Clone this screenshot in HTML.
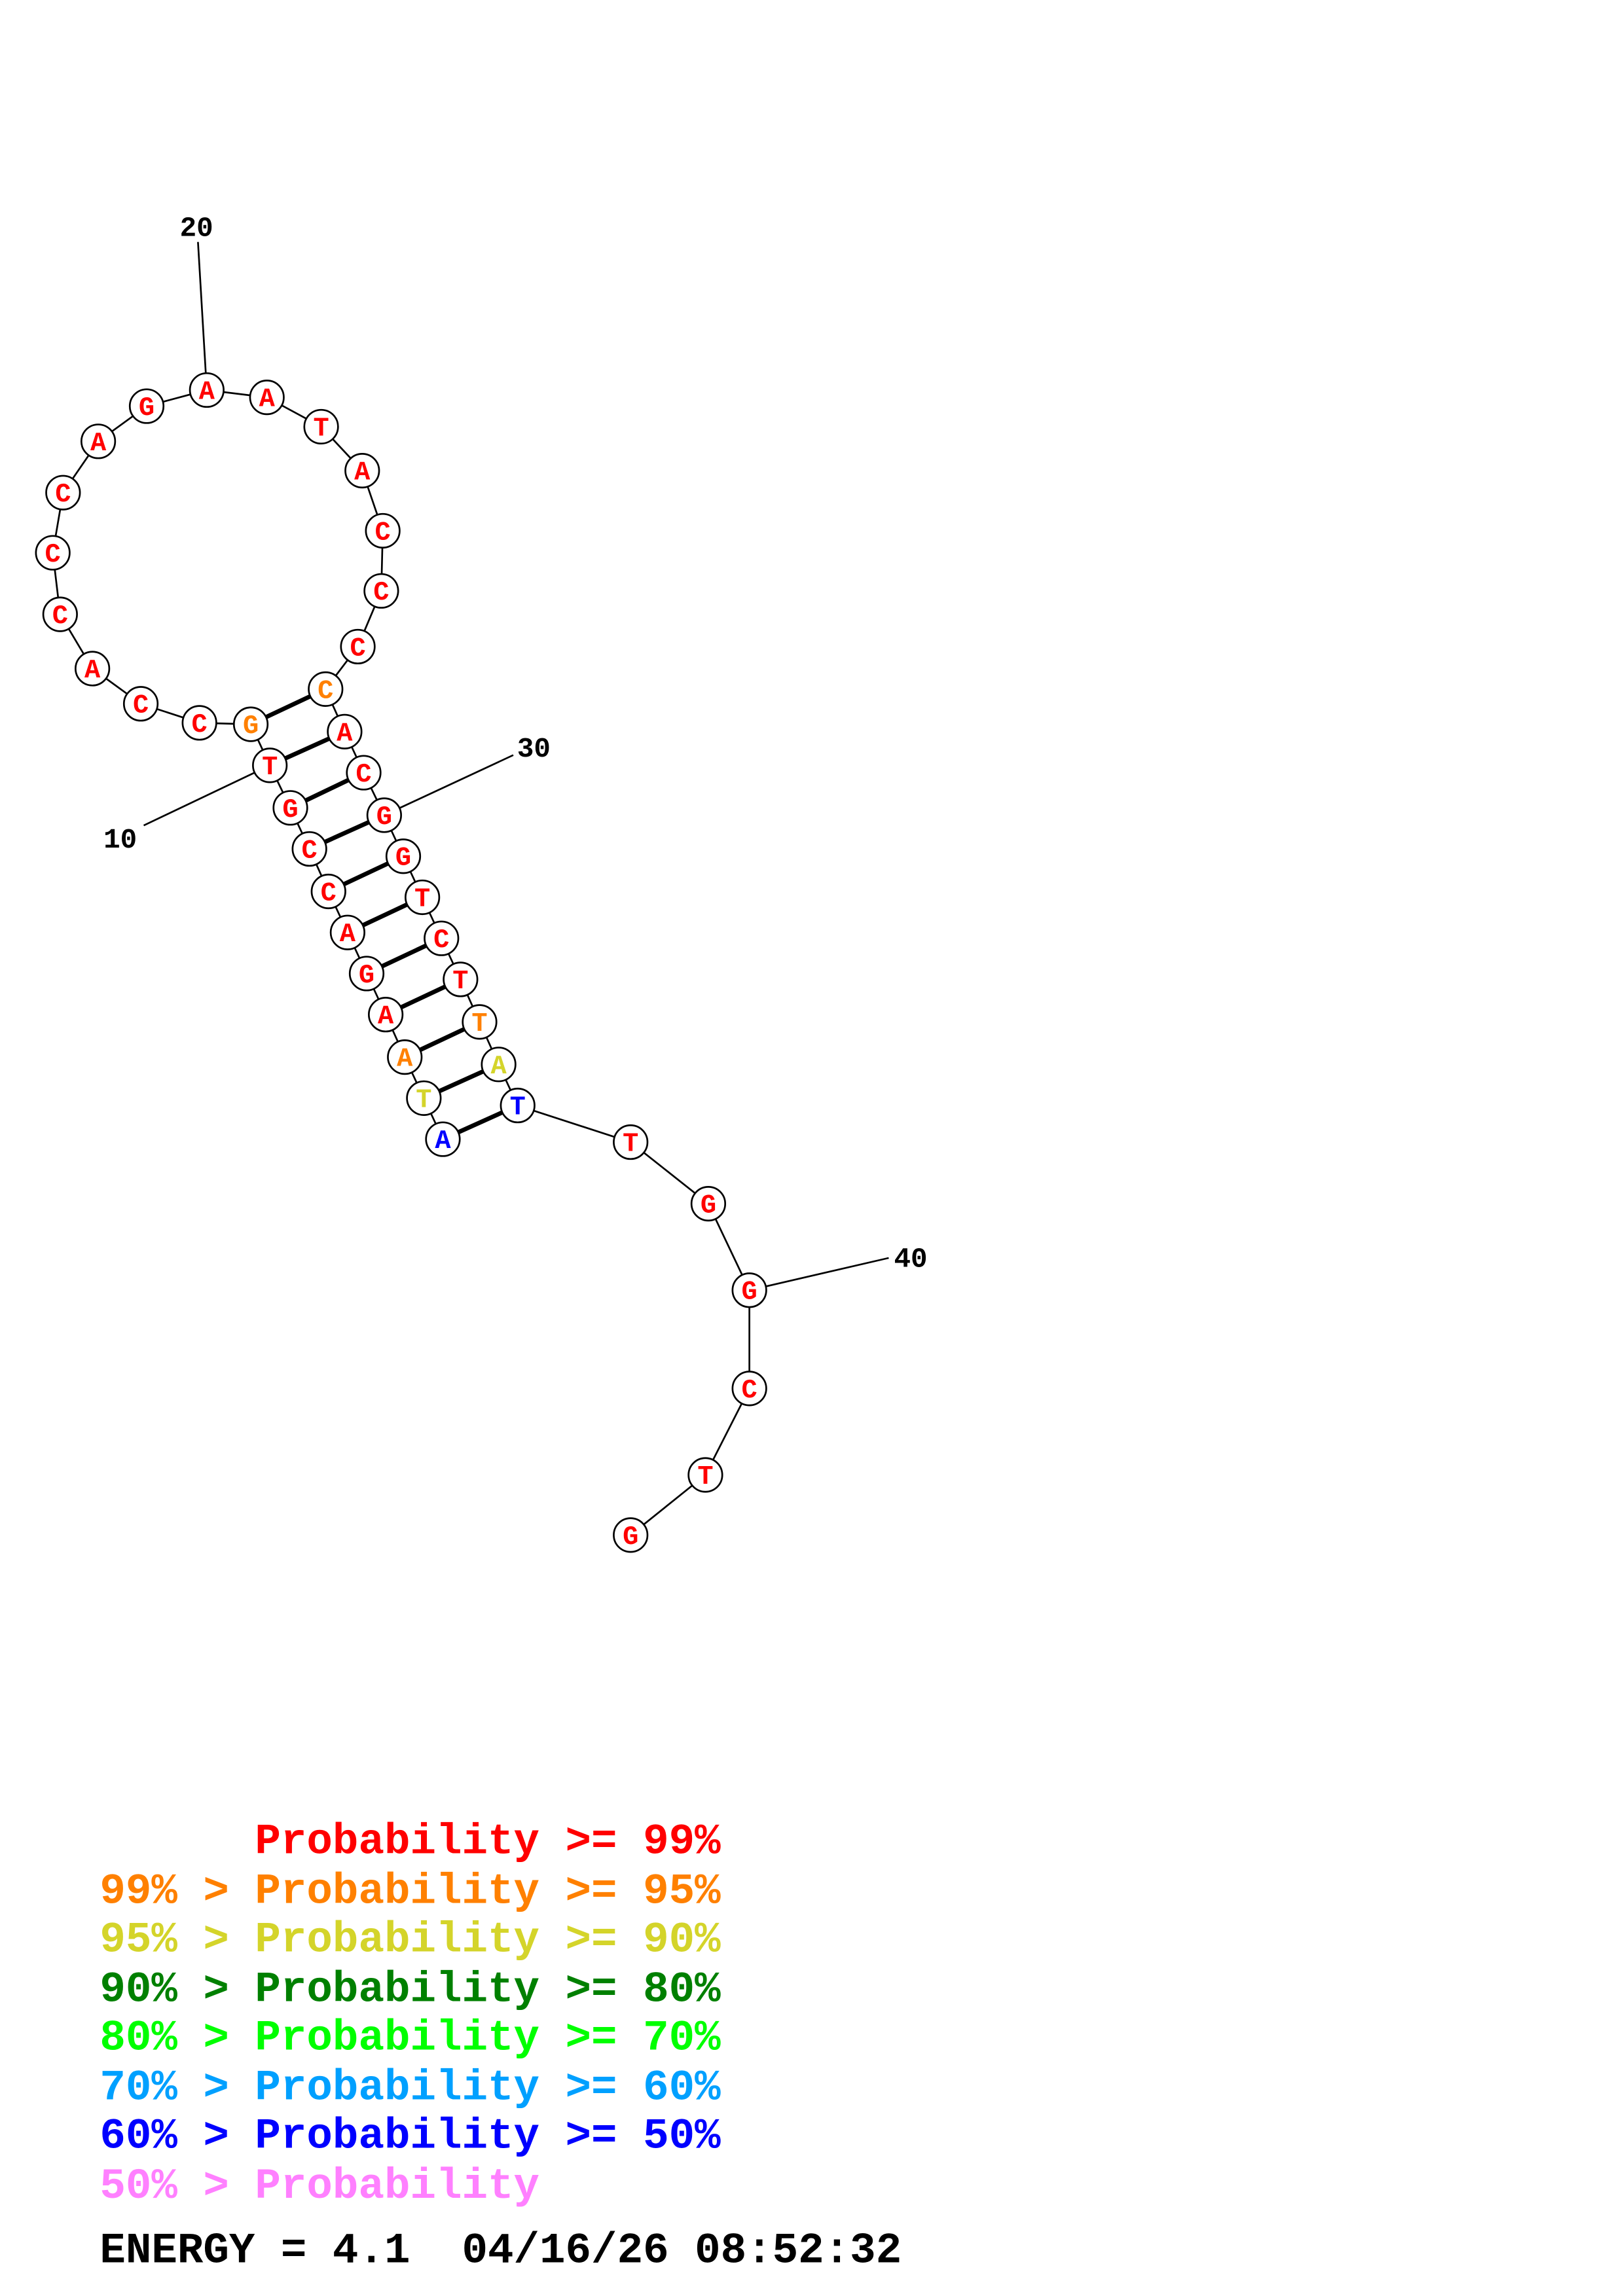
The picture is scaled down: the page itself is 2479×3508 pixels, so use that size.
<!DOCTYPE html>
<html><head><meta charset="utf-8"><style>html,body{margin:0;padding:0;background:#fff}svg{display:block}.pre{white-space:pre}</style></head>
<body>
<svg width="2479" height="3508" viewBox="0 0 1106.7 1566" xmlns="http://www.w3.org/2000/svg">
<rect width="1106.7" height="1566" fill="#fff"/>
<g stroke="#000" stroke-width="1.2" fill="none">
<polyline points="302,777 289,749 276,721 263,692 250,664 237,636 224,608 211,579 198,551 184,522 171,494 136,493 96,480 63,456 41,419 36,377 43,336 67,301 100,277 141,266 182,271 219,291 247,321 261,362 260,403 244,441 222,470 235,499 248,527 262,556 275,584 288,612 301,640 314,668 327,697 340,726 353,754 430,779 483,821 511,880 511,947 481,1006 430,1047"/>
<line x1="141" y1="266" x2="135" y2="165"/>
<line x1="184" y1="522" x2="98" y2="563"/>
<line x1="262" y1="556" x2="350" y2="515"/>
<line x1="511" y1="880" x2="606" y2="858"/>
</g>
<g stroke="#000" stroke-width="3">
<line x1="302" y1="777" x2="353" y2="754"/>
<line x1="289" y1="749" x2="340" y2="726"/>
<line x1="276" y1="721" x2="327" y2="697"/>
<line x1="263" y1="692" x2="314" y2="668"/>
<line x1="250" y1="664" x2="301" y2="640"/>
<line x1="237" y1="636" x2="288" y2="612"/>
<line x1="224" y1="608" x2="275" y2="584"/>
<line x1="211" y1="579" x2="262" y2="556"/>
<line x1="198" y1="551" x2="248" y2="527"/>
<line x1="184" y1="522" x2="235" y2="499"/>
<line x1="171" y1="494" x2="222" y2="470"/>
</g>
<g stroke="#000" stroke-width="1.2" fill="#fff">
<circle cx="302" cy="777" r="11.5"/><circle cx="289" cy="749" r="11.5"/><circle cx="276" cy="721" r="11.5"/><circle cx="263" cy="692" r="11.5"/><circle cx="250" cy="664" r="11.5"/><circle cx="237" cy="636" r="11.5"/><circle cx="224" cy="608" r="11.5"/><circle cx="211" cy="579" r="11.5"/><circle cx="198" cy="551" r="11.5"/><circle cx="184" cy="522" r="11.5"/><circle cx="171" cy="494" r="11.5"/><circle cx="136" cy="493" r="11.5"/><circle cx="96" cy="480" r="11.5"/><circle cx="63" cy="456" r="11.5"/><circle cx="41" cy="419" r="11.5"/><circle cx="36" cy="377" r="11.5"/><circle cx="43" cy="336" r="11.5"/><circle cx="67" cy="301" r="11.5"/><circle cx="100" cy="277" r="11.5"/><circle cx="141" cy="266" r="11.5"/><circle cx="182" cy="271" r="11.5"/><circle cx="219" cy="291" r="11.5"/><circle cx="247" cy="321" r="11.5"/><circle cx="261" cy="362" r="11.5"/><circle cx="260" cy="403" r="11.5"/><circle cx="244" cy="441" r="11.5"/><circle cx="222" cy="470" r="11.5"/><circle cx="235" cy="499" r="11.5"/><circle cx="248" cy="527" r="11.5"/><circle cx="262" cy="556" r="11.5"/><circle cx="275" cy="584" r="11.5"/><circle cx="288" cy="612" r="11.5"/><circle cx="301" cy="640" r="11.5"/><circle cx="314" cy="668" r="11.5"/><circle cx="327" cy="697" r="11.5"/><circle cx="340" cy="726" r="11.5"/><circle cx="353" cy="754" r="11.5"/><circle cx="430" cy="779" r="11.5"/><circle cx="483" cy="821" r="11.5"/><circle cx="511" cy="880" r="11.5"/><circle cx="511" cy="947" r="11.5"/><circle cx="481" cy="1006" r="11.5"/><circle cx="430" cy="1047" r="11.5"/>
</g>
<g font-family="Liberation Mono, monospace" font-weight="bold" font-size="18" text-anchor="middle" fill="#f00">
<text x="302" y="783" fill="#00f">A</text><text x="289" y="755" fill="#d4d42a">T</text><text x="276" y="727" fill="#ff8000">A</text><text x="263" y="698">A</text><text x="250" y="670">G</text><text x="237" y="642">A</text><text x="224" y="614">C</text><text x="211" y="585">C</text><text x="198" y="557">G</text><text x="184" y="528">T</text><text x="171" y="500" fill="#ff8000">G</text><text x="136" y="499">C</text><text x="96" y="486">C</text><text x="63" y="462">A</text><text x="41" y="425">C</text><text x="36" y="383">C</text><text x="43" y="342">C</text><text x="67" y="307">A</text><text x="100" y="283">G</text><text x="141" y="272">A</text><text x="182" y="277">A</text><text x="219" y="297">T</text><text x="247" y="327">A</text><text x="261" y="368">C</text><text x="260" y="409">C</text><text x="244" y="447">C</text><text x="222" y="476" fill="#ff8000">C</text><text x="235" y="505">A</text><text x="248" y="533">C</text><text x="262" y="562">G</text><text x="275" y="590">G</text><text x="288" y="618">T</text><text x="301" y="646">C</text><text x="314" y="674">T</text><text x="327" y="703" fill="#ff8000">T</text><text x="340" y="732" fill="#d4d42a">A</text><text x="353" y="760" fill="#00f">T</text><text x="430" y="785">T</text><text x="483" y="827">G</text><text x="511" y="886">G</text><text x="511" y="953">C</text><text x="481" y="1012">T</text><text x="430" y="1053">G</text>
</g>
<g font-family="Liberation Mono, monospace" font-weight="bold" font-size="19" text-anchor="middle" fill="#000">
<text x="134" y="161">20</text><text x="82" y="578">10</text><text x="364" y="516">30</text><text x="621" y="864">40</text>
</g>
<g font-family="Liberation Mono, monospace" font-weight="bold" font-size="29.4">
<text class="pre" x="68" y="1264" fill="#f00">      Probability &gt;= 99%</text>
<text class="pre" x="68" y="1298" fill="#ff8000">99% &gt; Probability &gt;= 95%</text>
<text class="pre" x="68" y="1331" fill="#d4d42a">95% &gt; Probability &gt;= 90%</text>
<text class="pre" x="68" y="1365" fill="#008000">90% &gt; Probability &gt;= 80%</text>
<text class="pre" x="68" y="1398" fill="#00ff00">80% &gt; Probability &gt;= 70%</text>
<text class="pre" x="68" y="1432" fill="#00a0ff">70% &gt; Probability &gt;= 60%</text>
<text class="pre" x="68" y="1465" fill="#0000ff">60% &gt; Probability &gt;= 50%</text>
<text class="pre" x="68" y="1499" fill="#ff80ff">50% &gt; Probability</text>
<text class="pre" x="68" y="1543" fill="#000">ENERGY = 4.1  04/16/26 08:52:32</text>
</g>
</svg>
</body></html>
